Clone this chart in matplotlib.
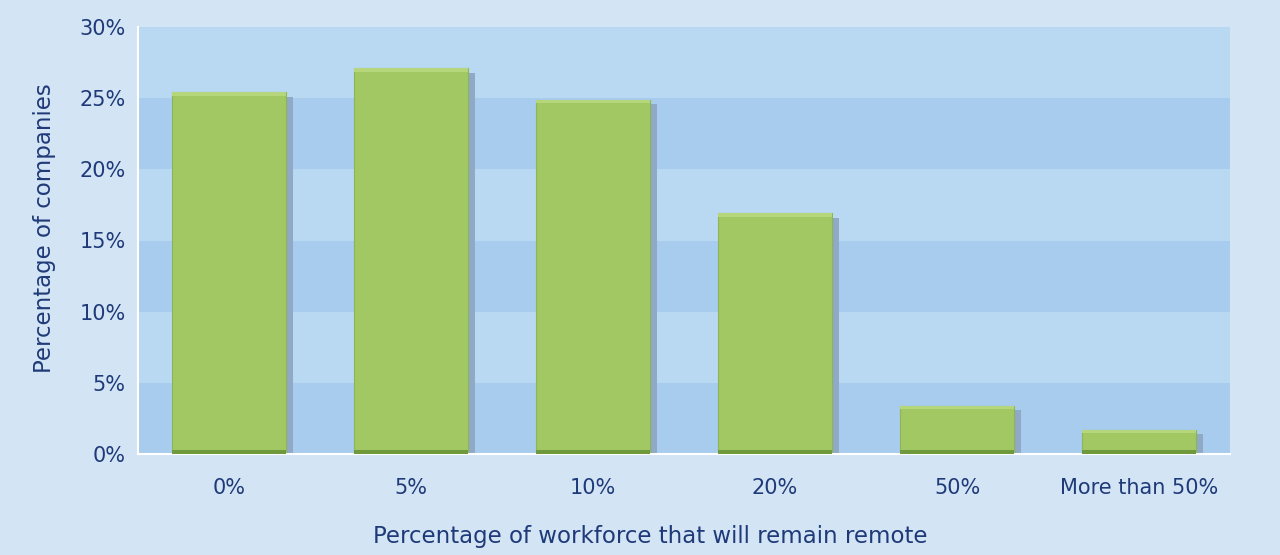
import matplotlib
matplotlib.use("Agg")
import matplotlib.pyplot as plt
from matplotlib.ticker import FuncFormatter
import numpy as np

categories = ["0%", "5%", "10%", "20%", "50%", "More than 50%"]
values = [25.4, 27.1, 24.9, 16.9, 3.4, 1.7]
y_ticks = [0, 5, 10, 15, 20, 25, 30]

text_color = "#1f3a78"
fig_bg = "#d3e4f5"
band_light = "#b9d8f2"
band_dark = "#a8cced"
bar_color = "#a2c864"
bar_edge = "#8db455"
shadow_color = "#8fa9c6"

fig = plt.figure(figsize=(12.8, 5.55), dpi=100, facecolor=fig_bg)
ax = fig.add_axes([138/1280, 1 - 454/555, (1230-138)/1280, (454-27)/555])
ax.set_facecolor(band_light)

x = np.arange(len(categories))
ax.set_xlim(-0.5, len(categories) - 0.5)
ax.set_ylim(0, 30)

for i, lo in enumerate(y_ticks[:-1]):
    if i % 2 == 0:
        ax.axhspan(lo, y_ticks[i + 1], color=band_dark, zorder=0, lw=0)

w = 0.63
# shadows
ax.bar(x + 0.035, np.array(values) - 0.3, width=w, color=shadow_color, zorder=1, lw=0)
# main bars
ax.bar(x, values, width=w, color=bar_color, edgecolor=bar_edge, linewidth=0.8, zorder=2)
# top highlight
ax.bar(x, [0.25] * len(values), bottom=np.array(values) - 0.25, width=w,
       color="#b5d67a", zorder=3, lw=0)
# bottom darker strip
ax.bar(x, [0.25] * len(values), width=w, color="#6f9a3c", zorder=3, lw=0)

ax.set_xticks(x)
ax.set_xticklabels(categories)
ax.set_yticks(y_ticks)
ax.yaxis.set_major_formatter(FuncFormatter(lambda v, p: f"{int(v)}%"))
ax.tick_params(axis="both", length=0, labelsize=15, colors=text_color)
ax.tick_params(axis="x", pad=17)
ax.tick_params(axis="y", pad=9)

for s in ["top", "right"]:
    ax.spines[s].set_visible(False)
for s in ["left", "bottom"]:
    ax.spines[s].set_color("white")
    ax.spines[s].set_linewidth(1.5)

ax.set_xlabel("Percentage of workforce that will remain remote", fontsize=16.5,
              color=text_color)
ax.set_ylabel("Percentage of companies", fontsize=16.5, color=text_color)
ax.xaxis.set_label_coords(0.469, -0.166)
ax.yaxis.set_label_coords(-0.075, 0.529)

fig.savefig("out.png", dpi=100, facecolor=fig_bg)
